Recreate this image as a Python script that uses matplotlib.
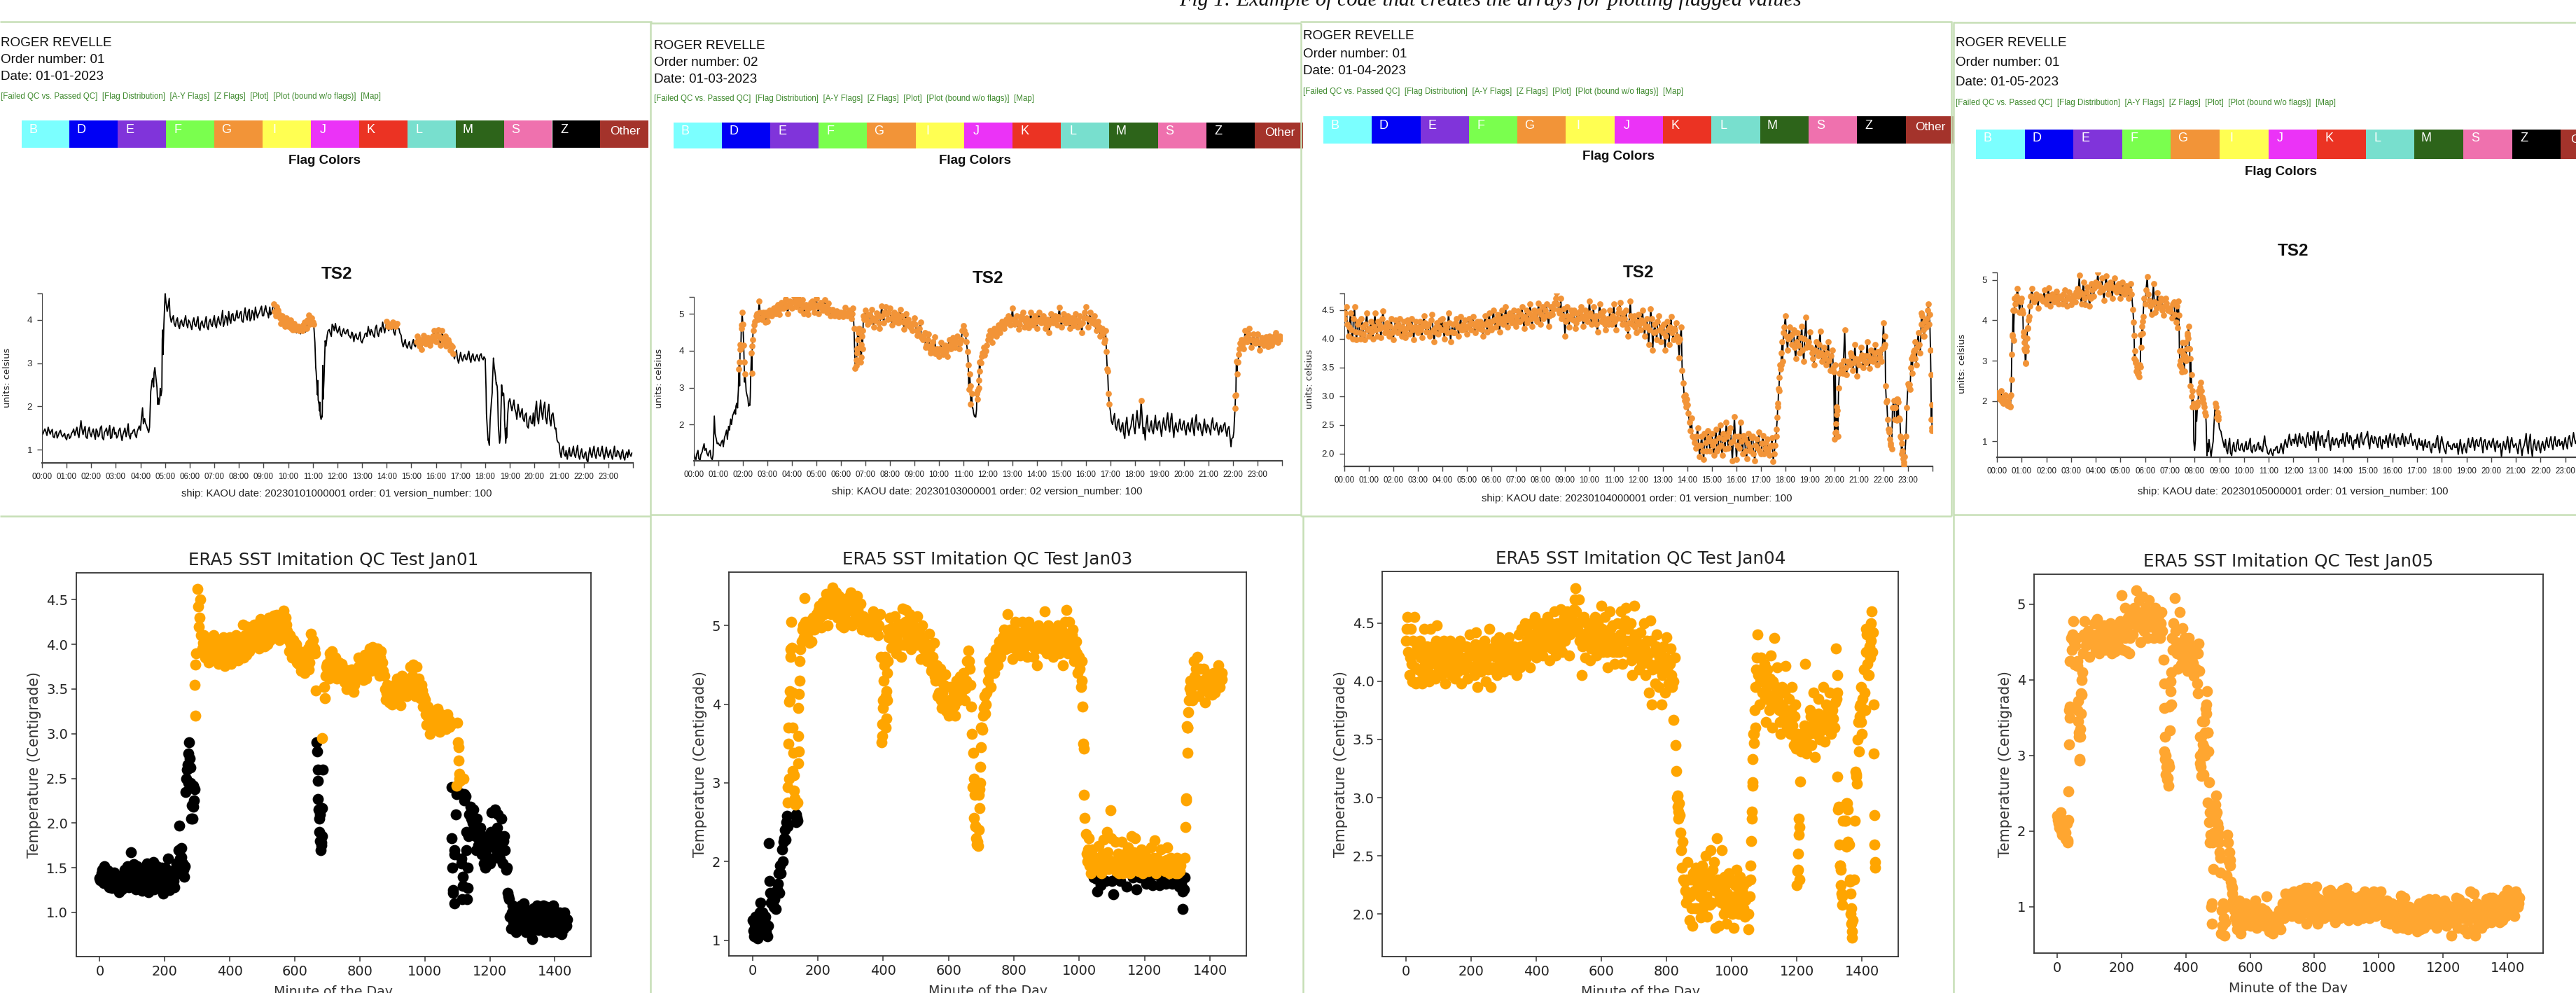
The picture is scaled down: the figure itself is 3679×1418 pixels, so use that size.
import numpy as np
import matplotlib
matplotlib.use("Agg")
import matplotlib.pyplot as plt
from matplotlib.patches import Rectangle

# temperatures, one row per hour, one value every 5 minutes
jan01_temp = [
    1.38, 1.44, 1.40, 1.52, 1.36, 1.47, 1.28, 1.42, 1.34, 1.45, 1.30, 1.38,
    1.23, 1.36, 1.30, 1.42, 1.33, 1.52, 1.28, 1.67, 1.35, 1.54, 1.26, 1.52,
    1.30, 1.48, 1.24, 1.42, 1.35, 1.55, 1.23, 1.45, 1.33, 1.56, 1.28, 1.52,
    1.40, 1.32, 1.50, 1.21, 1.43, 1.30, 1.60, 1.25, 1.38, 1.47, 1.28, 1.50,
    1.45, 1.97, 1.72, 1.55, 1.40, 2.35, 2.65, 2.90, 2.45, 2.05, 2.25, 3.20,
    4.62, 4.20, 4.50, 3.95, 4.10, 3.85, 4.05, 3.80, 4.00, 3.85, 4.10, 3.82,
    3.95, 3.78, 4.05, 3.85, 4.08, 3.76, 3.98, 3.82, 4.08, 3.78, 4.02, 3.85,
    4.10, 3.82, 4.08, 3.88, 4.22, 3.95, 4.05, 4.20, 3.92, 4.15, 3.98, 4.22,
    4.05, 4.20, 3.95, 4.28, 4.00, 4.25, 4.05, 4.15, 4.30, 4.05, 4.18, 4.32,
    4.10, 4.33, 4.15, 4.30, 4.18, 4.38, 4.10, 4.22, 4.05, 4.10, 3.95, 4.05,
    3.85, 4.00, 3.78, 3.92, 3.70, 3.85, 3.68, 3.75, 3.95, 3.80, 4.12, 3.95,
    3.95, 3.48, 2.47, 2.05, 1.70, 2.17, 3.52, 3.65, 3.78, 3.62, 3.85, 3.92,
    3.70, 3.85, 3.62, 3.80, 3.68, 3.78, 3.62, 3.72, 3.50, 3.68, 3.55, 3.72,
    3.47, 3.60, 3.70, 3.85, 3.65, 3.72, 3.60, 3.88, 3.62, 3.82, 3.95, 3.70,
    3.97, 3.75, 3.85, 3.95, 3.65, 3.92, 3.80, 3.65, 3.38, 3.55, 3.35, 3.50,
    3.33, 3.55, 3.38, 3.62, 3.40, 3.32, 3.65, 3.45, 3.60, 3.42, 3.55, 3.75,
    3.50, 3.77, 3.42, 3.75, 3.50, 3.40, 3.55, 3.30, 3.38, 3.10, 3.30, 3.00,
    3.25, 3.05, 3.20, 3.08, 3.28, 3.02, 3.22, 3.05, 3.20, 3.05, 3.22, 3.08,
    3.10, 1.50, 1.10, 2.10, 3.12, 2.70, 2.33, 1.15, 2.50, 2.30, 1.15, 1.85,
    2.18, 1.90, 2.15, 1.85, 2.05, 1.75, 1.95, 1.65, 1.85, 1.50, 1.78, 1.60,
    1.55, 2.12, 1.60, 2.15, 1.70, 2.10, 1.60, 2.05, 1.55, 1.85, 1.48, 1.22,
    1.15, 0.82, 1.08, 0.85, 0.78, 1.05, 0.85, 1.08, 0.82, 1.10, 0.78, 1.02,
    0.80, 0.95, 0.70, 1.05, 0.82, 1.08, 0.80, 1.05, 0.85, 1.08, 0.78, 1.06,
    0.82, 1.00, 0.78, 1.08, 0.85, 0.95, 0.78, 1.00, 0.76, 0.95, 1.00, 0.85,
]
# second reading in every 5 minute step, 2 minutes later
jan01_fill = [
    1.36, 1.48, 1.33, 1.45, 1.42, 1.30, 1.38, 1.27, 1.40, 1.36, 1.33, 1.28,
    1.34, 1.26, 1.38, 1.48, 1.42, 1.38, 1.46, 1.50, 1.44, 1.30, 1.42, 1.38,
    1.40, 1.36, 1.48, 1.30, 1.50, 1.28, 1.40, 1.50, 1.42, 1.26, 1.46, 1.36,
    1.27, 1.44, 1.36, 1.34, 1.50, 1.40, 1.34, 1.38, 1.44, 1.35, 1.42, 1.55,
    1.70, 1.60, 1.62, 1.48, 1.52, 2.50, 2.45, 2.72, 2.05, 2.18, 2.38, 3.90,
    4.42, 4.30, 4.10, 4.02, 3.92, 3.98, 3.88, 3.95, 3.90, 3.98, 3.92, 4.00,
    3.88, 3.95, 3.90, 3.96, 3.82, 3.92, 3.88, 3.94, 3.85, 3.95, 3.90, 3.98,
    3.90, 3.98, 3.95, 4.02, 3.85, 4.10, 3.88, 4.02, 4.12, 4.00, 4.08, 4.05,
    4.15, 3.98, 4.12, 4.10, 4.18, 3.98, 4.22, 4.00, 4.18, 4.12, 4.25, 4.10,
    4.22, 4.20, 4.05, 4.12, 4.28, 4.20, 4.30, 4.15, 3.92, 4.00, 3.85, 3.98,
    3.92, 3.80, 3.88, 3.78, 3.82, 3.75, 3.78, 3.88, 3.72, 4.00, 3.90, 4.05,
    3.90, 2.90, 2.60, 2.10, 1.78, 2.60, 3.40, 3.75, 3.70, 3.90, 3.75, 3.80,
    3.75, 3.68, 3.72, 3.70, 3.75, 3.65, 3.58, 3.68, 3.62, 3.58, 3.62, 3.52,
    3.55, 3.68, 3.62, 3.75, 3.78, 3.65, 3.80, 3.70, 3.75, 3.72, 3.85, 3.82,
    3.85, 3.90, 3.78, 3.72, 3.85, 3.80, 3.70, 3.50, 3.45, 3.42, 3.42, 3.38,
    3.45, 3.42, 3.50, 3.48, 3.55, 3.48, 3.55, 3.52, 3.48, 3.50, 3.62, 3.60,
    3.65, 3.62, 3.58, 3.55, 3.62, 3.50, 3.48, 3.42, 3.22, 3.20, 3.12, 3.10,
    3.12, 3.15, 3.10, 3.18, 3.12, 3.15, 3.10, 3.14, 3.12, 3.18, 3.12, 3.15,
    2.40, 1.22, 1.65, 2.32, 2.90, 2.50, 1.60, 1.30, 2.25, 1.90, 1.50, 2.10,
    2.05, 2.00, 1.95, 1.70, 1.92, 1.85, 1.72, 1.80, 1.55, 1.70, 1.62, 1.85,
    1.90, 1.75, 1.85, 1.90, 1.95, 1.75, 1.85, 1.72, 1.80, 1.70, 1.50, 1.18,
    0.95, 1.00, 0.90, 0.98, 0.92, 0.86, 0.95, 0.90, 0.95, 0.88, 0.92, 0.85,
    0.90, 0.78, 0.88, 0.92, 0.95, 0.90, 0.95, 0.88, 0.95, 0.92, 0.88, 0.94,
    0.90, 0.88, 0.92, 0.85, 0.98, 0.86, 0.92, 0.84, 0.88, 0.82, 0.90, 0.92,
]
# extra readings on the steep parts
jan01_extra_min = [668, 671, 673, 676, 678, 682, 683, 684, 1083, 1087, 1092, 1097, 1103, 1107, 1109, 1112, 1117, 1122, 1127, 1132, 268, 273, 278, 283, 288, 293, 294]
jan01_extra_temp = [2.80, 2.27, 2.15, 1.90, 1.80, 1.75, 1.85, 2.95, 1.83, 1.25, 1.70, 2.42, 2.85, 2.55, 2.47, 1.55, 1.40, 2.32, 1.70, 1.27, 2.60, 2.78, 2.62, 2.20, 2.42, 3.55, 3.77]

jan03_temp = [
    1.25, 1.05, 1.30, 1.02, 1.25, 1.48, 1.35, 1.15, 1.30, 1.05, 2.23, 1.60,
    1.50, 1.42, 1.58, 1.65, 1.85, 1.95, 2.15, 2.25, 2.40, 2.58, 3.50, 4.05,
    4.72, 3.38, 2.80, 2.55, 3.60, 4.55, 4.80, 5.00, 5.35, 4.90, 5.05, 4.78,
    4.80, 5.10, 4.95, 5.15, 5.00, 5.25, 4.98, 5.30, 5.15, 5.40, 5.00, 5.35,
    5.15, 5.48, 5.20, 5.42, 5.10, 5.38, 5.00, 5.25, 4.98, 5.20, 5.35, 5.05,
    5.42, 5.00, 5.30, 5.10, 5.38, 5.05, 5.28, 4.95, 5.12, 4.95, 5.08, 4.92,
    5.05, 4.92, 5.18, 4.95, 5.10, 4.88, 5.15, 3.52, 4.05, 4.60, 3.82, 4.95,
    5.10, 4.72, 4.98, 5.12, 4.65, 4.90, 5.00, 4.60, 5.22, 4.75, 5.20, 4.85,
    5.15, 4.70, 5.05, 4.85, 4.75, 5.12, 4.95, 4.58, 5.00, 4.85, 4.72, 4.55,
    4.90, 4.55, 4.45, 4.78, 4.30, 4.50, 4.15, 4.45, 3.95, 4.25, 4.38, 4.05,
    3.85, 4.22, 3.90, 4.15, 3.85, 4.30, 4.05, 4.35, 4.10, 4.40, 4.05, 4.30,
    4.68, 4.45, 3.97, 3.38, 2.85, 2.30, 2.20, 2.68, 3.45, 3.85, 4.10, 4.00,
    4.30, 4.55, 4.22, 4.60, 4.40, 4.70, 4.50, 4.80, 4.60, 4.85, 4.95, 4.70,
    5.15, 4.72, 4.95, 4.58, 4.85, 5.05, 4.65, 4.90, 4.62, 5.05, 4.70, 4.95,
    4.60, 5.05, 4.75, 4.95, 4.60, 4.85, 4.50, 5.00, 4.75, 4.95, 4.70, 5.18,
    4.65, 5.00, 4.75, 4.95, 4.60, 4.90, 4.68, 5.00, 4.65, 4.95, 4.50, 4.90,
    5.20, 4.65, 5.05, 4.75, 4.95, 4.55, 4.80, 4.40, 4.60, 4.22, 3.97, 2.85,
    2.35, 2.00, 2.30, 1.85, 2.15, 1.80, 2.05, 1.62, 2.20, 1.70, 1.95, 2.28,
    1.75, 2.38, 1.90, 2.65, 1.75, 1.58, 2.25, 1.80, 2.10, 1.75, 2.25, 1.85,
    2.10, 1.68, 2.18, 1.85, 2.32, 1.80, 2.30, 1.65, 2.05, 1.80, 2.15, 1.85,
    2.10, 1.72, 2.05, 1.80, 2.18, 1.70, 2.27, 1.85, 2.00, 1.70, 2.15, 1.78,
    1.95, 1.72, 2.18, 1.85, 2.05, 1.72, 1.98, 1.85, 2.05, 1.68, 1.95, 1.40,
    1.65, 2.44, 3.38, 4.05, 4.30, 4.05, 4.55, 4.25, 4.60, 4.10, 4.45, 4.20,
    4.45, 4.02, 4.35, 4.15, 4.38, 4.12, 4.40, 4.15, 4.25, 4.50, 4.22, 4.40,
]
jan03_fill = [
    1.12, 1.20, 1.08, 1.18, 1.35, 1.30, 1.22, 1.25, 1.10, 1.18, 1.75, 1.48,
    1.45, 1.52, 1.40, 1.72, 1.60, 1.85, 2.00, 2.30, 2.28, 2.45, 3.05, 4.70,
    4.15, 3.10, 2.72, 2.52, 3.40, 4.70, 4.95, 4.85, 5.05, 4.85, 4.95, 5.05,
    4.95, 5.00, 5.10, 5.05, 5.20, 5.10, 5.20, 5.15, 5.30, 5.20, 5.25, 5.20,
    5.30, 5.35, 5.30, 5.25, 5.30, 5.20, 5.22, 5.12, 5.15, 5.30, 5.18, 5.25,
    5.20, 5.25, 5.18, 5.22, 5.20, 5.15, 5.12, 5.10, 5.05, 5.02, 5.00, 5.05,
    4.98, 5.05, 5.00, 5.02, 4.98, 5.00, 4.60, 3.75, 4.30, 4.10, 4.40, 4.85,
    4.85, 4.98, 4.80, 4.90, 4.82, 5.02, 4.75, 4.92, 4.95, 5.05, 5.00, 5.05,
    4.88, 4.92, 4.80, 4.98, 4.88, 4.95, 4.78, 4.82, 4.72, 4.68, 4.62, 4.75,
    4.72, 4.42, 4.60, 4.35, 4.40, 4.10, 4.30, 4.05, 4.15, 4.05, 3.92, 3.98,
    4.05, 4.00, 4.08, 3.98, 4.12, 4.15, 4.25, 4.18, 4.28, 4.22, 4.20, 4.55,
    4.55, 4.25, 3.62, 3.05, 2.45, 2.22, 2.40, 3.00, 3.70, 3.95, 3.88, 4.15,
    4.42, 4.38, 4.48, 4.50, 4.55, 4.60, 4.65, 4.70, 4.72, 4.75, 4.82, 4.85,
    4.85, 4.80, 4.75, 4.72, 4.95, 4.85, 4.78, 4.75, 4.82, 4.80, 4.85, 4.78,
    4.82, 4.85, 4.88, 4.78, 4.72, 4.70, 4.78, 4.85, 4.88, 4.82, 4.92, 4.85,
    4.85, 4.82, 4.88, 4.78, 4.80, 4.75, 4.85, 4.80, 4.82, 4.70, 4.75, 5.05,
    4.90, 4.85, 4.85, 4.88, 4.72, 4.70, 4.65, 4.55, 4.45, 4.30, 3.50, 2.55,
    2.10, 2.15, 1.95, 2.05, 1.90, 1.95, 1.78, 1.98, 1.90, 1.85, 2.10, 1.95,
    2.05, 2.12, 2.02, 2.30, 1.92, 2.00, 1.88, 1.95, 1.85, 2.00, 1.92, 2.05,
    1.92, 1.95, 1.98, 2.08, 2.00, 2.12, 1.98, 1.90, 1.88, 1.98, 1.90, 2.00,
    1.88, 1.95, 1.88, 2.00, 1.92, 2.05, 1.95, 2.05, 1.82, 1.90, 1.92, 2.00,
    1.88, 2.02, 1.92, 1.95, 1.88, 1.90, 1.80, 1.98, 1.85, 1.88, 1.72, 1.62,
    1.80, 2.80, 3.70, 4.20, 4.15, 4.25, 4.35, 4.45, 4.30, 4.30, 4.25, 4.30,
    4.22, 4.20, 4.28, 4.25, 4.22, 4.30, 4.25, 4.32, 4.40, 4.35, 4.30, 4.32,
]
jan03_extra_min = [103, 108, 109, 111, 113, 114, 116, 118, 123, 124, 128, 133, 134, 138, 139, 141, 143, 144, 398, 399, 401, 403, 408, 409, 413, 414, 673, 678, 683, 688, 693, 694, 698, 699, 703, 1008, 1013, 1323, 1326, 1328, 1331, 1334]
jan03_extra_temp = [2.50, 2.75, 2.95, 3.70, 4.03, 4.17, 4.60, 5.05, 3.70, 3.15, 2.90, 2.60, 2.50, 2.75, 3.25, 3.95, 4.13, 4.30, 3.60, 3.95, 4.58, 4.50, 3.70, 4.17, 4.05, 4.55, 2.95, 2.55, 2.45, 2.25, 2.85, 2.92, 3.20, 3.70, 3.68, 4.55, 3.44, 2.05, 2.78, 3.72, 3.70, 3.90]

jan04_temp = [
    4.35, 4.55, 4.05, 4.45, 4.00, 4.55, 3.98, 4.30, 4.00, 4.20, 3.98, 4.45,
    4.05, 4.30, 4.00, 4.45, 4.05, 4.25, 4.02, 4.48, 4.10, 4.28, 4.05, 4.35,
    3.98, 4.32, 4.10, 4.35, 4.05, 4.30, 4.02, 4.32, 4.08, 4.35, 3.98, 4.30,
    4.10, 4.30, 4.02, 4.40, 4.12, 4.25, 4.05, 4.42, 3.95, 4.20, 4.08, 4.32,
    4.35, 4.00, 4.20, 4.45, 3.95, 4.25, 4.10, 4.35, 4.05, 4.38, 4.15, 4.32,
    4.08, 4.35, 4.15, 4.38, 4.10, 4.30, 4.18, 4.25, 4.05, 4.40, 4.12, 4.45,
    4.15, 4.50, 4.20, 4.42, 4.12, 4.50, 4.25, 4.55, 4.20, 4.45, 4.28, 4.50,
    4.22, 4.48, 4.30, 4.55, 4.18, 4.50, 4.32, 4.60, 4.22, 4.50, 4.35, 4.62,
    4.25, 4.55, 4.38, 4.60, 4.22, 4.55, 4.42, 4.62, 4.80, 4.50, 4.70, 4.40,
    4.05, 4.55, 4.20, 4.50, 4.32, 4.18, 4.45, 4.35, 4.55, 4.22, 4.50, 4.30,
    4.65, 4.25, 4.55, 4.40, 4.12, 4.60, 4.30, 4.48, 4.15, 4.35, 4.50, 4.25,
    4.60, 4.15, 4.45, 4.63, 4.25, 4.35, 4.50, 4.05, 4.65, 4.25, 4.40, 4.10,
    4.42, 4.15, 4.50, 4.05, 4.35, 3.90, 4.52, 3.80, 4.25, 3.98, 4.40, 3.95,
    4.10, 3.80, 4.30, 3.90, 4.38, 3.98, 4.15, 4.05, 3.67, 4.20, 3.23, 3.02,
    2.85, 2.55, 2.62, 2.28, 2.10, 2.45, 1.95, 2.30, 1.90, 2.20, 2.40, 2.05,
    2.35, 1.97, 2.42, 2.10, 2.50, 1.98, 2.25, 2.55, 2.10, 2.45, 1.88, 2.65,
    1.90, 2.30, 2.55, 2.00, 2.25, 1.92, 2.35, 2.05, 2.30, 1.88, 2.25, 2.38,
    2.00, 2.32, 2.10, 2.25, 1.98, 2.15, 1.87, 2.15, 2.63, 3.33, 3.75, 4.10,
    4.40, 3.80, 4.20, 3.90, 4.15, 3.65, 4.10, 3.75, 4.22, 3.60, 4.37, 3.90,
    4.12, 3.75, 3.55, 3.95, 3.70, 4.13, 3.60, 3.85, 3.55, 3.95, 3.45, 3.80,
    2.25, 2.68, 3.14, 3.55, 3.40, 4.15, 3.38, 3.60, 3.75, 3.45, 3.90, 3.35,
    3.55, 3.85, 3.50, 3.70, 3.95, 3.48, 3.80, 3.60, 3.90, 3.55, 3.75, 3.60,
    4.28, 3.18, 2.60, 2.25, 2.08, 2.93, 2.80, 2.95, 2.60, 2.18, 1.80, 2.30,
    3.22, 3.12, 3.40, 3.80, 3.55, 4.10, 3.75, 4.40, 4.05, 4.20, 4.60, 3.80,
]
jan04_fill = [
    4.45, 4.25, 4.20, 4.15, 4.35, 4.12, 4.25, 4.10, 4.35, 4.08, 4.25, 4.15,
    4.18, 4.12, 4.22, 4.15, 4.30, 4.18, 4.35, 4.20, 4.18, 4.12, 4.22, 4.10,
    4.15, 4.22, 4.25, 4.18, 4.20, 4.12, 4.18, 4.25, 4.22, 4.15, 4.20, 4.15,
    4.20, 4.15, 4.22, 4.28, 4.22, 4.10, 4.32, 4.15, 4.12, 4.28, 4.20, 4.15,
    4.15, 4.25, 4.10, 4.28, 4.12, 4.10, 4.28, 4.20, 4.22, 4.15, 4.25, 4.18,
    4.22, 4.25, 4.28, 4.25, 4.22, 4.20, 4.30, 4.15, 4.25, 4.25, 4.30, 4.22,
    4.30, 4.32, 4.35, 4.28, 4.35, 4.30, 4.38, 4.32, 4.40, 4.35, 4.40, 4.30,
    4.38, 4.30, 4.42, 4.35, 4.38, 4.28, 4.45, 4.35, 4.40, 4.42, 4.30, 4.48,
    4.42, 4.35, 4.50, 4.42, 4.40, 4.45, 4.52, 4.70, 4.60, 4.45, 4.35, 4.52,
    4.30, 4.40, 4.35, 4.42, 4.50, 4.28, 4.35, 4.48, 4.40, 4.35, 4.42, 4.38,
    4.45, 4.38, 4.32, 4.25, 4.40, 4.45, 4.38, 4.25, 4.32, 4.25, 4.35, 4.40,
    4.30, 4.35, 4.52, 4.35, 4.45, 4.25, 4.18, 4.28, 4.40, 4.35, 4.20, 4.30,
    4.25, 4.32, 4.28, 4.20, 4.22, 4.15, 4.35, 4.10, 4.12, 4.30, 4.15, 4.20,
    4.25, 4.05, 4.15, 4.20, 4.10, 4.18, 4.28, 3.95, 4.00, 3.45, 3.00, 2.88,
    2.70, 2.40, 2.30, 2.20, 2.30, 2.15, 2.15, 2.05, 2.35, 2.05, 2.28, 2.22,
    2.15, 2.22, 2.05, 2.28, 2.15, 2.35, 2.08, 2.30, 2.38, 2.20, 2.22, 2.30,
    2.15, 2.10, 2.22, 2.32, 2.05, 2.18, 2.12, 2.28, 2.00, 2.15, 2.10, 2.05,
    2.18, 2.00, 2.20, 2.05, 2.12, 2.28, 2.00, 2.30, 2.88, 3.55, 3.95, 4.20,
    4.05, 4.00, 4.05, 4.08, 3.85, 3.95, 3.88, 4.02, 3.80, 4.00, 3.85, 3.95,
    3.85, 3.65, 3.80, 3.78, 3.90, 3.75, 3.70, 3.65, 3.75, 3.62, 3.70, 3.50,
    3.55, 2.75, 3.40, 3.45, 3.62, 3.50, 3.60, 3.55, 3.70, 3.58, 3.65, 3.62,
    3.65, 3.72, 3.62, 3.58, 3.70, 3.62, 3.65, 3.75, 3.65, 3.78, 3.68, 3.82,
    3.85, 2.90, 2.42, 2.18, 2.80, 2.60, 2.95, 2.62, 2.30, 2.05, 1.95, 2.80,
    3.18, 3.50, 3.70, 3.65, 3.85, 3.90, 4.25, 4.15, 4.30, 4.35, 4.25, 2.60,
]
jan04_extra_min = [833, 836, 838, 1058, 1061, 1063, 1064, 1068, 1069, 1073, 1198, 1201, 1203, 1204, 1206, 1208, 1323, 1324, 1328, 1333, 1334, 1338, 1348, 1353, 1356, 1363, 1364, 1368, 1369, 1383, 1388, 1393, 1398, 1413, 1418, 1428, 1433, 1436, 1438, 1439, 1439]
jan04_extra_temp = [2.92, 2.82, 2.95, 2.42, 2.82, 3.13, 3.10, 3.47, 3.55, 3.60, 3.42, 2.37, 2.52, 2.38, 2.82, 2.30, 4.05, 3.90, 2.92, 2.42, 2.38, 2.15, 2.80, 2.58, 2.90, 2.28, 2.00, 1.92, 1.85, 3.20, 3.65, 3.78, 3.95, 4.45, 4.05, 4.50, 4.42, 3.38, 2.85, 2.45, 2.40]

jan05_temp = [
    2.20, 2.10, 2.25, 1.95, 2.15, 1.90, 2.10, 2.53, 3.50, 4.40, 4.78, 4.20,
    4.55, 3.72, 2.95, 3.80, 4.35, 4.78, 4.45, 4.65, 4.30, 4.60, 4.50, 4.75,
    4.40, 4.80, 4.35, 4.65, 4.45, 4.72, 4.40, 4.60, 4.40, 4.75, 4.35, 4.70,
    4.38, 4.62, 4.45, 4.78, 5.12, 4.40, 4.95, 4.38, 4.82, 4.35, 4.90, 4.60,
    4.95, 5.18, 4.70, 5.05, 4.50, 5.10, 4.65, 4.95, 4.55, 5.05, 4.70, 4.90,
    4.55, 4.95, 4.65, 4.85, 4.55, 4.90, 4.27, 3.25, 2.85, 2.60, 3.33, 4.10,
    4.40, 5.08, 4.50, 4.15, 4.90, 4.20, 4.68, 4.35, 4.50, 4.12, 4.55, 4.25,
    4.30, 4.05, 4.45, 3.95, 4.48, 3.00, 3.45, 2.75, 3.30, 3.85, 3.05, 2.25,
    0.78, 1.50, 2.25, 2.47, 2.05, 1.72, 0.65, 1.05, 0.62, 1.00, 1.95, 1.72,
    1.33, 1.18, 0.95, 1.05, 0.70, 1.08, 0.65, 0.98, 0.75, 1.05, 0.78, 0.95,
    0.75, 1.00, 0.82, 1.08, 0.72, 0.92, 0.80, 0.98, 0.88, 0.75, 1.14, 0.85,
    0.68, 0.82, 0.65, 0.78, 0.88, 0.72, 0.95, 0.70, 1.05, 0.85, 1.18, 0.90,
    1.05, 1.18, 0.88, 1.20, 0.95, 1.05, 0.85, 1.22, 0.90, 1.08, 1.25, 0.78,
    1.25, 0.90, 1.15, 0.85, 1.00, 1.27, 0.78, 1.10, 0.92, 1.08, 0.85, 1.05,
    1.20, 0.88, 1.22, 0.95, 1.10, 0.80, 1.05, 1.18, 0.85, 1.22, 0.92, 1.10,
    1.25, 0.82, 1.15, 0.95, 1.08, 0.85, 1.12, 0.82, 1.00, 1.15, 0.85, 1.20,
    0.90, 1.18, 0.85, 1.10, 0.92, 1.20, 0.88, 1.05, 0.95, 1.20, 0.90, 1.05,
    0.80, 1.08, 0.90, 0.78, 1.05, 0.85, 1.00, 0.72, 0.95, 0.85, 1.15, 0.72,
    1.12, 0.85, 0.70, 1.00, 0.90, 0.80, 0.95, 0.85, 0.68, 1.05, 0.70, 0.95,
    0.72, 1.08, 0.85, 1.10, 0.78, 1.05, 0.88, 1.10, 0.72, 1.05, 0.80, 1.02,
    0.85, 1.08, 0.75, 1.02, 0.90, 0.62, 1.00, 0.80, 1.12, 0.72, 1.10, 0.85,
    0.95, 0.70, 1.05, 0.65, 0.90, 1.20, 0.70, 1.18, 0.62, 1.05, 0.78, 1.02,
    0.72, 1.00, 0.78, 1.10, 0.85, 1.12, 0.80, 1.12, 0.88, 1.05, 0.95, 0.80,
    1.10, 0.82, 1.15, 0.88, 1.22, 0.95, 1.15, 1.05, 1.10, 1.00, 1.15, 1.05,
]
jan05_fill = [
    2.15, 2.05, 2.00, 2.12, 2.00, 1.98, 1.88, 3.60, 4.25, 4.60, 4.50, 4.45,
    4.25, 3.30, 3.35, 4.00, 4.60, 4.55, 4.50, 4.55, 4.60, 4.55, 4.48, 4.50,
    4.60, 4.55, 4.62, 4.50, 4.58, 4.52, 4.60, 4.55, 4.65, 4.50, 4.58, 4.55,
    4.50, 4.58, 4.70, 4.60, 4.70, 4.65, 4.55, 4.70, 4.60, 4.55, 4.75, 4.80,
    4.85, 4.90, 4.82, 4.75, 4.80, 4.88, 4.78, 4.85, 4.80, 4.75, 4.85, 4.80,
    4.72, 4.78, 4.80, 4.70, 4.75, 4.65, 3.95, 3.00, 2.68, 2.90, 3.85, 4.55,
    4.75, 4.65, 4.35, 4.40, 4.45, 4.30, 4.42, 4.55, 4.25, 4.35, 4.42, 4.30,
    4.22, 4.40, 4.15, 4.35, 4.12, 2.85, 3.05, 3.10, 3.62, 3.30, 2.65, 1.95,
    1.05, 1.90, 2.20, 2.25, 1.95, 1.65, 0.95, 0.85, 0.80, 1.42, 1.85, 1.62,
    1.28, 1.08, 0.85, 0.80, 0.90, 0.72, 0.85, 0.78, 0.92, 0.82, 0.90, 0.80,
    0.88, 0.80, 0.95, 0.78, 0.88, 0.76, 0.92, 0.80, 0.78, 0.95, 0.92, 0.72,
    0.75, 0.72, 0.80, 0.85, 0.72, 0.80, 0.85, 0.90, 0.95, 1.00, 1.02, 1.05,
    0.95, 1.00, 1.08, 0.98, 1.12, 0.92, 1.10, 0.98, 1.15, 0.95, 1.02, 1.05,
    1.05, 1.12, 0.95, 1.05, 1.15, 0.95, 1.02, 0.92, 1.05, 0.98, 1.02, 0.95,
    1.00, 1.10, 1.02, 1.15, 0.92, 1.02, 0.95, 1.05, 1.10, 0.98, 1.05, 1.15,
    0.98, 1.05, 1.00, 1.12, 0.95, 1.08, 0.92, 1.05, 0.95, 1.02, 1.08, 0.98,
    1.05, 1.02, 1.08, 0.95, 1.10, 1.00, 1.12, 0.95, 1.10, 1.05, 0.98, 0.92,
    0.95, 0.92, 1.02, 0.90, 0.88, 0.98, 0.82, 0.92, 0.85, 1.05, 0.88, 0.95,
    1.00, 0.78, 0.92, 0.88, 0.82, 0.92, 0.85, 0.95, 0.82, 0.90, 0.85, 0.82,
    0.92, 0.88, 0.98, 0.95, 1.00, 0.90, 1.00, 0.95, 1.00, 0.90, 0.95, 0.92,
    0.98, 0.92, 0.95, 0.85, 0.95, 0.80, 0.90, 0.95, 0.92, 0.98, 0.95, 0.90,
    0.85, 0.90, 0.88, 0.82, 1.00, 0.92, 0.98, 0.85, 0.90, 0.88, 0.95, 0.85,
    0.90, 0.88, 0.95, 0.92, 1.00, 0.95, 1.00, 0.92, 1.02, 0.90, 1.00, 0.95,
    0.95, 1.05, 1.00, 1.02, 1.08, 1.02, 1.12, 1.00, 0.88, 1.20, 1.00, 1.12,
]
jan05_extra_min = [33, 34, 36, 38, 39, 43, 63, 64, 66, 68, 69, 71, 73, 74, 78, 333, 334, 336, 338, 343, 348, 349, 353, 354, 438, 443, 444, 448, 449, 453, 458, 459, 463, 464, 468, 469, 473, 474, 478, 483, 488, 493, 498, 503, 508, 513, 533, 538, 544]
jan05_extra_temp = [1.85, 2.15, 3.15, 3.65, 4.25, 4.55, 4.18, 3.60, 3.45, 3.25, 2.93, 3.25, 3.55, 3.82, 4.10, 3.63, 3.05, 2.95, 2.75, 2.70, 2.85, 3.65, 3.98, 3.67, 3.82, 3.25, 2.90, 2.73, 3.25, 3.15, 3.45, 3.00, 3.67, 3.55, 3.30, 2.38, 2.12, 1.85, 1.00, 1.85, 1.98, 2.35, 2.10, 1.85, 1.45, 0.75, 1.60, 1.55, 1.25]

flag_labels = ["B", "D", "E", "F", "G", "I", "J", "K", "L", "M", "S", "Z", "Other"]
flag_colors = ["#7BFFFF", "#0000F5", "#8034DA", "#7AFF4E", "#F29438", "#FFFF52", "#EB33F7",
               "#EB3323", "#78DFCE", "#2D641A", "#EF71AE", "#000000", "#A4332B"]
hour_labels = ["%02d:00" % h for h in range(24)]
link_text = "[Failed QC vs. Passed QC]  [Flag Distribution]  [A-Y Flags]  [Z Flags]  [Plot]  [Plot (bound w/o flags)]  [Map]"
order_numbers = ["01", "02", "01", "01"]
dates = ["01-01-2023", "01-03-2023", "01-04-2023", "01-05-2023"]
stamps = ["20230101000001", "20230103000001", "20230104000001", "20230105000001"]
days = ["Jan01", "Jan03", "Jan04", "Jan05"]

# (start minute, end minute, lowest flagged value) for the TS2 plots
top_flags = [
    [(565, 668, 3.75), (838, 866, 3.8), (912, 1005, 3.2)],
    [(108, 125, 3.3), (141, 1018, 2.5), (1090, 1100, 2.6), (1322, 1440, 2.4)],
    [(0, 1440, 0.0)],
    [(0, 545, 1.55)],
]
# (start minute, end minute, value under which the point stays black) for the scatters
black_spans = [
    [(0, 1080, 2.92), (1080, 1440, 2.42)],
    [(0, 200, 2.65), (1000, 1440, 1.85)],
    [],
    [],
]
temps = [jan01_temp, jan03_temp, jan04_temp, jan05_temp]
fills = [jan01_fill, jan03_fill, jan04_fill, jan05_fill]
extra_mins = [jan01_extra_min, jan03_extra_min, jan04_extra_min, jan05_extra_min]
extra_temps = [jan01_extra_temp, jan03_extra_temp, jan04_extra_temp, jan05_extra_temp]

top_yticks = [[1, 2, 3, 4], [2, 3, 4, 5], [2.0, 2.5, 3.0, 3.5, 4.0, 4.5], [1, 2, 3, 4, 5]]
top_ylabels = [["1", "2", "3", "4"], ["2", "3", "4", "5"], ["2.0", "2.5", "3.0", "3.5", "4.0", "4.5"], ["1", "2", "3", "4", "5"]]
bottom_yticks = [[1, 1.5, 2, 2.5, 3, 3.5, 4, 4.5], [1, 2, 3, 4, 5], [2, 2.5, 3, 3.5, 4, 4.5], [1, 2, 3, 4, 5]]
bottom_ylabels = [["1.0", "1.5", "2.0", "2.5", "3.0", "3.5", "4.0", "4.5"], ["1", "2", "3", "4", "5"],
                  ["2.0", "2.5", "3.0", "3.5", "4.0", "4.5"], ["1", "2", "3", "4", "5"]]
minute_ticks = [0, 200, 400, 600, 800, 1000, 1200, 1400]

# layout in pixels of the full picture
W, H = 3680, 1418
NARROW = "Liberation Sans"
BORDER = "#C6DFB6"
FLAG_ORANGE = "#F29438"
head_x = [1, 934, 1861, 2793]
head_y = [(61, 85, 110, 138), (66, 90, 114, 141), (52, 77, 102, 131), (62, 90, 117, 147)]
bar_box = [(30.6, 172, 68.9, 39), (961.7, 175, 69.2, 37), (1890, 166, 69.3, 39), (2822, 185, 69.6, 41.5)]
flagcolors_pos = [(464, 229), (1393, 230), (2312, 223), (3257.6, 246)]
ts2_pos = [(481, 391), (1411, 397), (2340, 390), (3275, 358.7)]
units_pos = [(11, 539), (942, 540), (1871, 541), (2803, 519)]
footer_pos = [(481, 705), (1410, 702), (2338, 711.7), (3275, 701.7)]
# left, top, right, bottom, ymin, ymax
top_axes = [(60, 419, 904, 660.7, 0.70, 4.615), (991, 424, 1831, 657.7, 1.024, 5.46),
            (1920, 418.7, 2760, 665.7, 1.784, 4.79), (2852, 389, 3699, 652.7, 0.615, 5.185)]
bottom_axes = [(109, 818, 844, 1366, 0.506, 4.80), (1041, 817, 1780, 1365, 0.80, 5.68),
               (1974.5, 815.7, 2711, 1366, 1.636, 4.944), (2905, 820, 3632, 1361, 0.389, 5.396)]
scatter_orange = ["#FFA500", "#FFA500", "#FFA500", "#FFA630"]


def px_axes(left, top, right, bottom):
    return fig.add_axes([left / W, 1 - bottom / H, (right - left) / W, (bottom - top) / H])


def day_series(i):
    grid = np.arange(len(temps[i])) * 5
    m = np.concatenate([grid, grid + 2, extra_mins[i]])
    t = np.concatenate([temps[i], fills[i], extra_temps[i]])
    order = np.argsort(m, kind="stable")
    return m[order], t[order]


fig = plt.figure(figsize=(W / 100, H / 100), dpi=100)
bg = fig.add_axes([0, 0, 1, 1])
bg.set_xlim(0, W)
bg.set_ylim(H, 0)
bg.axis("off")

# panel borders
border_lines = [
    ((0, 931), (31, 31)), ((929, 1858), (33, 33)), ((1857, 2788), (31, 31)), ((2790, 3680), (31.5, 31.5)),
    ((929, 929), (31, 1418)), ((1858, 1858), (33, 737)), ((1861, 1861), (737, 1418)),
    ((2787, 2787), (31, 737)), ((2790, 2790), (31, 1418)),
    ((0, 929), (737, 737)), ((929, 1858), (735, 735)), ((1858, 2787), (737, 737)), ((2790, 3680), (735, 735)),
]
for xs, ys in border_lines:
    bg.plot(xs, ys, color=BORDER, lw=1.8, solid_capstyle="butt")

bg.text(1684, 8, "Fig 1: Example of code that creates the arrays for plotting flagged values",
        family="Liberation Serif", style="italic", fontsize=21.7, va="baseline", ha="left", color="#111111")

for i in range(4):
    # header block
    x = head_x[i]
    y1, y2, y3, y4 = head_y[i]
    bg.text(x, y1, "ROGER REVELLE", family=NARROW, fontsize=13.6, va="center", color="#111111")
    bg.text(x, y2, "Order number: " + order_numbers[i], family=NARROW, fontsize=13.6, va="center", color="#111111")
    bg.text(x, y3, "Date: " + dates[i], family=NARROW, fontsize=13.6, va="center", color="#111111")
    bg.text(x, y4, link_text, family=NARROW, fontsize=8.3, va="center", color="#3F8A2E")

    # flag colour bar
    bx, by, bw, bh = bar_box[i]
    for k, (lab, col) in enumerate(zip(flag_labels, flag_colors)):
        bg.add_patch(Rectangle((bx + k * bw, by), bw, bh, facecolor=col, edgecolor="none"))
        if lab == "Other":
            bg.text(bx + k * bw + bw / 2 + 1, by + 15, lab, family=NARROW, fontsize=12.5, color="white", ha="center", va="center", clip_on=True)
        else:
            bg.text(bx + k * bw + 17, by + 13, lab, family=NARROW, fontsize=13, color="white", ha="center", va="center", clip_on=True)
    fx, fy = flagcolors_pos[i]
    bg.text(fx, fy, "Flag Colors", family=NARROW, weight="bold", fontsize=13.5, ha="center", va="center", color="#111111")
    tx, ty = ts2_pos[i]
    bg.text(tx, ty, "TS2", family=NARROW, weight="bold", fontsize=17.5, ha="center", va="center", color="#111111")
    ux, uy = units_pos[i]
    bg.text(ux, uy, "units: celsius", fontsize=9.4, rotation=90, ha="center", va="center", color="#222222")
    fx, fy = footer_pos[i]
    bg.text(fx, fy, "ship: KAOU date: %s order: %s version_number: 100" % (stamps[i], order_numbers[i]),
            family=NARROW, fontsize=10.7, ha="center", va="center", color="#222222")

    minute, temp = day_series(i)

    # TS2 line plot with flagged points
    l, t, r, b, y0, y1 = top_axes[i]
    ax = px_axes(l, t, r, b)
    ax.patch.set_alpha(0)
    ax.plot(minute, temp, color="black", lw=1.3, zorder=2)
    flagged = np.zeros(len(minute), dtype=bool)
    for start, end, low in top_flags[i]:
        flagged |= (minute >= start) & (minute <= end) & (temp >= low)
    ax.plot(minute[flagged], temp[flagged], "o", color=FLAG_ORANGE, ms=6.3, mew=0, zorder=3)
    ax.set_xlim(0, 1440)
    ax.set_ylim(y0, y1)
    ax.spines["top"].set_visible(False)
    ax.spines["right"].set_visible(False)
    ax.spines["left"].set_color("#444444")
    ax.spines["bottom"].set_color("#444444")
    ax.spines["bottom"].set_linewidth(1.6)
    ax.set_xticks(np.arange(24) * 60)
    ax.set_xticklabels(hour_labels, family=NARROW, fontsize=8.3, color="#222222")
    ax.set_yticks(top_yticks[i])
    ax.set_yticklabels(top_ylabels[i], family=NARROW, fontsize=9.5, color="#222222")
    ax.tick_params(axis="both", length=5, width=1, color="#444444", pad=5)
    ax.set_xticks([1440], minor=True)
    ax.set_yticks([y1], minor=True)
    ax.tick_params(axis="both", which="minor", length=5, width=1, color="#444444")

    # ERA5 imitation scatter
    l, t, r, b, y0, y1 = bottom_axes[i]
    ax = px_axes(l, t, r, b)
    black = np.zeros(len(minute), dtype=bool)
    for start, end, below in black_spans[i]:
        black |= (minute >= start) & (minute <= end) & (temp < below)
    ax.scatter(minute[black], temp[black], s=130, color="black", linewidths=0)
    ax.scatter(minute[~black], temp[~black], s=130, color=scatter_orange[i], linewidths=0)
    ax.set_xlim(-72, 1511)
    ax.set_ylim(y0, y1)
    ax.set_xticks(minute_ticks)
    ax.set_yticks(bottom_yticks[i])
    ax.set_yticklabels(bottom_ylabels[i])
    ax.tick_params(axis="both", labelsize=14, length=5, width=1.1, labelcolor="#222222", color="#333333")
    for side in ax.spines.values():
        side.set_linewidth(1.3)
        side.set_color("#333333")
    ax.set_title("ERA5 SST Imitation QC Test " + days[i], fontsize=17.7, color="#222222", pad=8)
    ax.set_xlabel("Minute of the Day", fontsize=13.7, color="#333333", labelpad=7)
    ax.set_ylabel("Temperature (Centigrade)", fontsize=14.8, color="#333333", labelpad=5)

fig.savefig("out.png", dpi=100)
